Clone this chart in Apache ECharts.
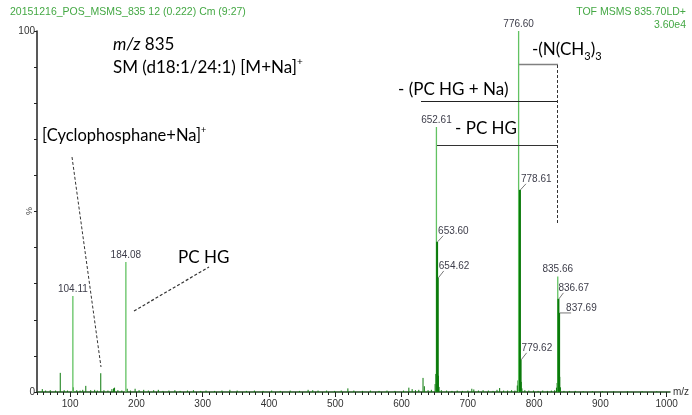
<!DOCTYPE html>
<html><head><meta charset="utf-8">
<script src="https://cdn.jsdelivr.net/npm/echarts@6/dist/echarts.min.js"></script>
<style>html,body{margin:0;padding:0;background:#fff}#c{width:692px;height:415px}</style>
</head><body><div id="c"></div>
<script>
// ---- data ----
const xTickLabels = [100, 200, 300, 400, 500, 600, 700, 800, 900, 1000];
const yTickLabels = [0, 100];

const mainMz  = [104.11, 184.08, 652.61, 776.60, 835.66];
const mainInt = [26.6, 36.0, 73.4, 100, 32.0];
const mainLabels = ['104.11', '184.08', '652.61', '776.60', '835.66'];

const isoMz  = [653.60, 654.62, 778.61, 779.62, 836.67, 837.69];
const isoInt = [41.6, 31.6, 56.0, 8.9, 25.8, 21.9];
const isoLabels = ['653.60', '654.62', '778.61', '779.62', '836.67', '837.69'];

const minorMz  = [58,63,70,78,85.1,91,96,104.6,110,115,119,123.6,131,137,141,146.2,151,157,163,165.5,167,172,178,186.1,191,198,204,211,218,226,233,240,249,258,266,277,286,297,305,318,329,341,352,366,378,391,404,417,432,446,459,466,474,487,499,509,519,528,541,553,566,578,590,603,611,616,621,626,632.4,634.4,640,645,650.6,651.6,655.6,656.6,660,668,676,684,692,700,706,709,716,723,731,738,744,748,754,760,766,771,774.6,775.6,777.6,780.6,781.6,786,792,799,806,813,820,826,831,833.7,834.7,838.7,839.7,845,853,862,874,888,903,920,941,963,985];
const minorInt = [0.8,0.4,0.5,0.4,5.3,0.5,0.4,1.3,0.5,0.4,0.6,1.7,0.5,0.6,0.4,5.2,0.5,0.4,0.8,1.0,1.2,0.5,0.4,0.9,0.4,0.9,0.5,0.6,0.4,0.5,0.6,0.3,0.4,0.5,0.3,0.4,0.5,0.3,0.4,0.3,0.4,0.6,0.4,0.3,0.4,0.3,0.4,0.3,0.4,0.3,0.6,0.5,0.4,0.4,0.3,0.4,1.0,0.4,0.3,0.4,0.3,0.4,0.3,0.4,1.2,0.8,0.5,0.6,3.9,1.6,0.5,0.6,2.2,5.0,4.5,1.4,0.5,0.4,0.3,0.4,0.3,0.4,0.9,0.7,0.4,0.5,0.4,0.3,0.6,1.1,0.4,0.4,0.5,0.4,1.8,3.2,6.0,2.8,1.0,0.5,0.4,0.4,0.3,0.4,0.3,0.4,0.5,1.2,2.5,4.2,1.3,0.3,0.3,0.3,0.2,0.2,0.2,0.2,0.2,0.2,0.2];

// ---- styling (separate from data) ----
const isoLabelDx = [1, 1, 1, 1, 0, 7];
const isoLabelDy = [-11, -12, -11, -12, -11, -5];
const LIGHT = '#62c262', DARK = '#0b7a0b';
const LABEL_FONT = '10px "Liberation Sans", Arial, sans-serif';
const ANN = 'Lato';

const minorTicks = [];
for (let v = 50; v <= 1000; v += 10) minorTicks.push(v);

function stick(color, width, labels, mode) {
  return function (params, api) {
    const x = api.value(0), h = api.value(1);
    const p0 = api.coord([x, 0]), p1 = api.coord([x, h]);
    const children = [{
      type: 'line', shape: { x1: p0[0], y1: p0[1], x2: p1[0], y2: p1[1] },
      style: { stroke: color, lineWidth: width }
    }];
    if (labels) {
      const i = params.dataIndex;
      if (mode === 'top') {
        children.push({ type: 'text', style: { text: labels[i], x: p1[0], y: p1[1] - 2, align: 'center', verticalAlign: 'bottom', font: LABEL_FONT, fill: '#3d3d4a' } });
      } else {
        const dx = isoLabelDx[i], dy = isoLabelDy[i];
        children.push({ type: 'line', shape: { x1: p1[0] + 0.5, y1: p1[1], x2: p1[0] + dx + 5, y2: p1[1] + dy + 5 }, style: { stroke: '#555', lineWidth: 0.8 } });
        children.push({ type: 'text', style: { text: labels[i], x: p1[0] + dx, y: p1[1] + dy, align: 'left', verticalAlign: 'middle', font: LABEL_FONT, fill: '#3d3d4a' } });
      }
    }
    return { type: 'group', children };
  };
}

const chart = echarts.init(document.getElementById('c'), null, { renderer: 'canvas' });

const axisCommon = { type: 'value', min: 50, max: 1005, splitLine: { show: false } };

// text sequences with sub/superscripts
const mctx = document.createElement('canvas').getContext('2d');
function seq(x, y, parts, family) {
  const out = [];
  let cx = x;
  parts.forEach(p => {
    const font = (p.italic ? 'italic ' : '') + p.size + 'px "' + family + '"';
    out.push({ type: 'text', z: 50, style: { text: p.t, x: cx, y: y + (p.dy || 0), font, fill: '#000', verticalAlign: 'middle' } });
    mctx.font = font;
    cx += mctx.measureText(p.t).width;
  });
  return out;
}

const graphics = [].concat(
  [{ type: 'text', style: { text: '20151216_POS_MSMS_835 12 (0.222) Cm (9:27)', x: 10, y: 12, verticalAlign: 'middle', font: '10.5px "Liberation Sans", Arial', fill: '#44a844' } },
   { type: 'text', style: { text: 'TOF MSMS 835.70LD+', x: 686, y: 12, align: 'right', verticalAlign: 'middle', font: '10.5px "Liberation Sans", Arial', fill: '#44a844' } },
   { type: 'text', style: { text: '3.60e4', x: 686, y: 25, align: 'right', verticalAlign: 'middle', font: '10.5px "Liberation Sans", Arial', fill: '#44a844' } },
   { type: 'text', x: 28, y: 211, rotation: -Math.PI / 2, style: { text: '%', align: 'center', verticalAlign: 'middle', font: '9px "Liberation Sans", Arial', fill: '#444' } }],
  seq(113, 45, [{ t: 'm/z', size: 17, italic: true }, { t: ' 835', size: 17 }], ANN),
  seq(113, 68, [{ t: 'SM (d18:1/24:1) [M+Na]', size: 17 }, { t: '+', size: 10, dy: -6 }], ANN),
  seq(42, 136, [{ t: '[Cyclophosphane+Na]', size: 16.5 }, { t: '+', size: 9, dy: -6 }], ANN),
  seq(178, 258, [{ t: 'PC HG', size: 17 }], ANN),
  seq(398, 90, [{ t: '- (PC HG + Na)', size: 17 }], ANN),
  seq(455, 129, [{ t: '- PC HG', size: 17 }], ANN),
  seq(532, 50, [{ t: '-(N(CH', size: 17 }, { t: '3', size: 11, dy: 6 }, { t: ')', size: 17 }, { t: '3', size: 11, dy: 6 }], ANN),
  [
    { type: 'line', z: 40, shape: { x1: 519, y1: 64.5, x2: 558, y2: 64.5 }, style: { stroke: '#808080', lineWidth: 1.5 } },
    { type: 'line', z: 40, shape: { x1: 421, y1: 101.5, x2: 558, y2: 101.5 }, style: { stroke: '#222', lineWidth: 1 } },
    { type: 'line', z: 40, shape: { x1: 437, y1: 145.5, x2: 558, y2: 145.5 }, style: { stroke: '#333', lineWidth: 1 } },
    { type: 'line', z: 40, shape: { x1: 557.5, y1: 65, x2: 557.5, y2: 223 }, style: { stroke: '#333', lineWidth: 1, lineDash: [3, 2] } },
    { type: 'line', z: 40, shape: { x1: 72, y1: 157, x2: 101, y2: 367 }, style: { stroke: '#333', lineWidth: 1, lineDash: [3, 2] } },
    { type: 'line', z: 40, shape: { x1: 134, y1: 311, x2: 209, y2: 267 }, style: { stroke: '#333', lineWidth: 1.2, lineDash: [3, 2] } }
  ]
);

chart.setOption({
  animation: false,
  grid: [
    { left: 37, right: 22, top: 31, bottom: 23, outerBoundsMode: 'none', containLabel: false },
    { left: 37, right: 22, top: 31, bottom: 23, outerBoundsMode: 'none', containLabel: false }
  ],
  xAxis: [
    Object.assign({}, axisCommon, {
      gridIndex: 0, interval: 10,
      name: 'm/z', nameLocation: 'end', nameGap: 3,
      nameTextStyle: { fontFamily: '"Liberation Sans", Arial', fontSize: 10, color: '#333', verticalAlign: 'middle' },
      axisLine: { show: true, onZero: false, lineStyle: { color: '#1f4f1f', width: 1.5 } },
      axisTick: { show: true, customValues: minorTicks, length: 3, lineStyle: { color: '#222', width: 1 } },
      axisLabel: { customValues: xTickLabels, formatter: v => String(v), margin: 7, fontFamily: '"Liberation Sans", Arial', fontSize: 10, color: '#333' }
    }),
    Object.assign({}, axisCommon, {
      gridIndex: 1,
      axisLine: { show: false },
      axisTick: { show: true, customValues: xTickLabels, length: 5, lineStyle: { color: '#222', width: 1 } },
      axisLabel: { show: false }
    })
  ],
  yAxis: [
    { type: 'value', gridIndex: 0, min: 0, max: 100, interval: 10,
      splitLine: { show: false },
      axisLine: { show: true, lineStyle: { color: '#222', width: 1.5 } },
      axisTick: { show: true, length: 3, lineStyle: { color: '#222' } },
      axisLabel: { customValues: yTickLabels, formatter: v => String(v), margin: 2, fontFamily: '"Liberation Sans", Arial', fontSize: 10, color: '#333' }
    },
    { type: 'value', gridIndex: 1, min: 0, max: 100, show: false }
  ],
  series: [
    { type: 'custom', xAxisIndex: 0, yAxisIndex: 0, silent: true, clip: true, z: 3,
      renderItem: stick(DARK, 1, null),
      data: minorMz.map((m, i) => [m, minorInt[i]]) },
    { type: 'custom', xAxisIndex: 0, yAxisIndex: 0, silent: true, clip: false, z: 4,
      renderItem: stick(LIGHT, 1.3, mainLabels, 'top'),
      data: mainMz.map((m, i) => [m, mainInt[i]]) },
    { type: 'custom', xAxisIndex: 0, yAxisIndex: 0, silent: true, clip: false, z: 5,
      renderItem: stick(DARK, 2, isoLabels, 'side'),
      data: isoMz.map((m, i) => [m, isoInt[i]]) }
  ],
  graphic: graphics
});
</script>
</body></html>
